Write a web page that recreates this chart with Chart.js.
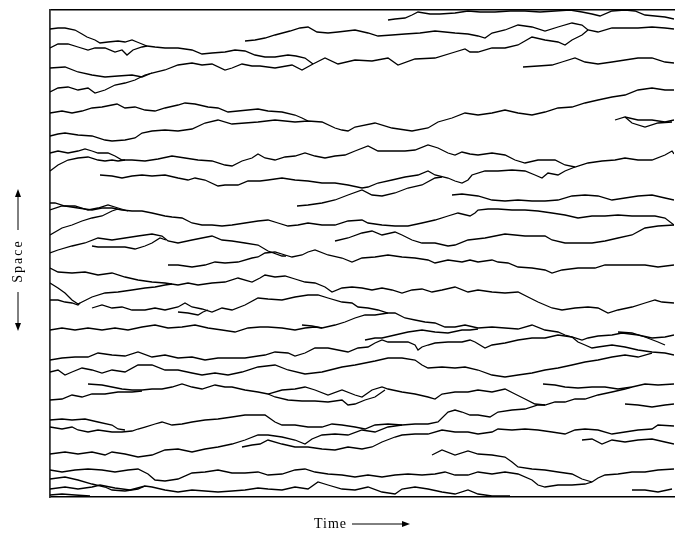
<!DOCTYPE html>
<html>
<head>
<meta charset="utf-8">
<script src="https://cdn.jsdelivr.net/npm/chart.js@4.4.1/dist/chart.umd.min.js"></script>
<style>
  html, body { margin: 0; padding: 0; background: #fff; }
  canvas { display: block; }
</style>
</head>
<body>
<canvas id="walks" width="678" height="533"></canvas>
<script>
// each path: [time, space] pairs (time 0..624, space 0..487 from the top)
const path01 = [[0,19],[8,18],[15,18],[25,20],[32,24],[37,27],[45,30],[50,33],[58,32],[68,31],[75,32],[82,30],[87,32],[92,34],[97,36],[105,37],[115,38],[128,38],[142,40],[152,44],[162,43],[175,42],[185,40],[195,41],[205,45],[215,47],[225,47],[238,45],[246,46],[255,48],[263,54]];
const path02 = [[0,38],[8,34],[18,34],[28,37],[38,40],[45,38],[55,38],[65,42],[72,40],[77,45],[83,40],[92,37],[97,36]];
const path03 = [[0,58],[15,57],[28,62],[42,65],[55,67],[68,66],[82,65],[92,67],[102,63],[115,60],[128,55],[142,53],[152,55],[162,54],[175,60],[182,58],[192,54],[202,56],[210,56],[225,58],[242,55],[252,60],[263,54],[275,48],[288,54],[305,50],[322,51],[338,48],[348,55],[365,49],[385,48],[405,42],[415,39],[420,42],[428,42],[442,38],[455,38],[468,35],[482,27],[495,30],[508,32],[515,35],[522,30],[532,25],[538,20]];
const path04 = [[0,82],[8,78],[18,77],[28,80],[38,78],[45,83],[55,80],[65,75],[75,73],[85,70],[95,65],[102,63]];
const path05 = [[195,31],[205,30],[215,28],[225,25],[240,21],[250,18],[258,17],[267,22],[278,23],[288,22],[305,20],[318,23],[328,26],[342,25],[355,24],[370,23],[385,21],[395,22],[405,23],[418,24],[428,26],[435,28],[442,23],[455,20],[468,15],[482,17],[495,21],[508,17],[522,13],[532,15],[538,20],[548,22],[562,18],[575,18],[588,18],[602,17],[615,18],[624,19]];
const path06 = [[338,10],[345,9],[355,8],[362,5],[368,2],[380,4],[390,4],[405,3],[418,1],[430,2],[445,2],[460,1],[475,1],[490,2],[505,1],[520,0],[532,2],[542,4],[550,6],[562,1],[575,0],[585,1],[595,5],[605,6],[615,7],[624,9]];
const path07 = [[0,103],[12,101],[22,103],[32,101],[42,98],[52,97],[62,95],[67,94],[75,98],[85,97],[95,100],[105,101],[115,98],[128,95],[135,93],[145,94],[158,97],[168,98],[178,102],[188,101],[198,100],[208,99],[218,101],[232,102],[245,105],[252,108],[258,111]];
const path08 = [[0,126],[8,124],[15,123],[28,125],[42,126],[55,130],[62,131],[75,130],[85,128],[92,123],[102,121],[115,120],[128,121],[142,119],[155,113],[168,110],[182,114],[195,113],[208,112],[225,110],[245,112],[258,111],[272,112],[285,118],[292,120],[298,121],[305,117],[325,113],[342,118],[362,121],[378,118],[388,112],[402,108],[415,103],[428,105],[442,103],[455,100],[468,103],[482,105],[495,102],[508,98],[522,97],[535,93],[548,90],[562,87],[575,85],[588,80],[602,78],[615,80],[624,80]];
const path09 = [[473,57],[488,56],[502,55],[512,52],[525,48],[535,52],[548,54],[562,52],[575,50],[588,48],[602,48],[615,52],[624,53]];
const path10 = [[565,110],[575,107],[588,110],[602,110],[615,112],[624,110]];
const path11 = [[575,107],[582,113],[595,117],[608,113],[622,112]];
const path12 = [[0,143],[8,141],[18,143],[28,141],[35,139],[42,141],[48,143],[58,143],[65,146],[72,150],[82,150],[95,151],[108,149],[122,146],[135,148],[148,150],[162,151],[175,155],[182,156],[192,151],[202,148],[208,144],[215,148],[225,150],[235,147],[245,146],[255,143],[265,146],[275,148],[285,146],[295,145],[305,141],[318,136],[328,141],[342,141],[355,141],[365,140],[378,135],[388,138],[398,143],[405,145],[412,142],[420,144],[428,145],[442,143],[455,145],[465,150],[475,153],[488,150],[505,150],[515,155],[525,157],[538,153],[552,151],[565,150],[575,148],[588,150],[602,150],[615,145],[622,141],[624,144]];
const path13 = [[0,161],[8,155],[18,150],[28,148],[38,147],[48,150],[55,151],[62,150],[68,151],[75,150]];
const path14 = [[50,165],[62,166],[72,168],[82,166],[92,165],[102,166],[115,165],[128,168],[138,170],[145,168],[155,170],[168,176],[175,175],[188,175],[198,171],[210,171],[218,170],[232,168],[245,170],[258,171],[272,173],[285,173],[298,175],[312,178],[318,177],[328,173],[342,170],[355,167],[368,165],[378,161],[385,165],[398,168],[405,171],[412,173],[418,170],[422,165],[435,161],[448,161],[462,160],[475,161],[485,165],[492,168],[498,163],[508,165],[515,161],[525,157]];
const path15 = [[247,196],[258,195],[272,193],[285,190],[298,185],[312,180],[322,185],[332,186],[345,183],[358,178],[372,175],[385,168],[392,167]];
const path16 = [[402,185],[412,184],[420,185],[428,186],[442,190],[455,191],[468,190],[482,191],[495,191],[508,190],[522,186],[535,185],[548,186],[562,190],[575,188],[588,186],[602,185],[615,188],[624,190]];
const path17 = [[0,193],[5,193],[15,196],[28,198],[42,200],[52,198],[62,198],[72,200],[82,201],[92,201],[102,203],[115,206],[122,207],[132,208],[142,213],[152,215],[162,215],[172,216],[182,215],[195,213],[208,211],[218,210],[228,213],[238,216],[248,215],[258,213],[272,215],[285,215],[298,211],[312,210],[318,213],[332,215],[345,216],[358,216],[372,213],[385,210],[398,206],[408,203],[420,206],[425,203],[428,200],[438,199],[448,199],[462,200],[475,200],[488,201],[502,203],[515,205],[528,208],[542,206],[555,206],[568,205],[582,206],[595,206],[605,206],[615,208],[624,215]];
const path18 = [[0,200],[12,196],[25,196],[38,200],[48,198],[58,195],[68,198],[78,201]];
const path19 = [[0,225],[12,218],[22,215],[32,211],[42,208],[52,206],[62,201],[68,199]];
const path20 = [[285,231],[298,228],[312,223],[322,221],[332,225],[345,222],[352,225],[362,230],[372,233],[385,233],[398,236],[405,235],[418,230],[435,228],[455,224],[475,226],[495,226],[502,230],[515,233],[528,233],[542,233],[555,231],[568,228],[582,225],[595,218],[608,216],[624,215]];
const path21 = [[42,236],[48,237],[62,237],[75,237],[85,239],[95,236],[102,233],[110,228],[116,230]];
const path22 = [[0,243],[8,240],[22,236],[35,233],[48,228],[62,230],[75,228],[88,226],[102,224],[112,226],[118,231],[128,233],[142,230],[152,228],[162,226],[172,230],[182,231],[195,233],[208,235],[218,241],[232,246],[236,246]];
const path23 = [[118,255],[128,255],[142,257],[155,255],[165,252],[175,253],[188,252],[202,248],[208,247],[215,243],[225,242],[235,245],[242,247],[252,245],[258,242],[265,240],[278,245],[292,248],[302,252],[312,248],[325,247],[338,245],[352,247],[365,248],[378,250],[385,253],[398,250],[412,252],[420,250],[428,252],[442,250],[448,252],[458,253],[468,257],[482,258],[495,260],[502,263],[512,260],[528,258],[545,258],[555,255],[568,255],[582,255],[595,255],[608,257],[624,255]];
const path24 = [[0,258],[8,262],[22,263],[35,262],[48,265],[62,263],[75,267],[88,270],[102,272],[115,273],[128,275],[138,273],[148,275],[162,273],[175,272],[188,268],[202,272],[210,268],[215,265],[225,267],[235,266],[245,269],[255,272],[265,273],[275,277],[282,282],[292,278],[302,277],[312,278],[322,280],[332,278],[342,280],[352,283],[362,280],[372,279],[382,282],[392,280],[405,277],[418,282],[428,280],[442,282],[455,283],[468,282],[478,287],[488,292],[502,298],[512,300],[525,298],[538,297],[548,298],[558,303],[568,300],[582,297],[595,293],[605,290],[612,292],[624,293]];
const path25 = [[0,273],[8,278],[15,283],[22,290],[28,294],[32,292],[42,287],[55,283],[68,282],[82,280],[95,278],[105,277],[115,275],[122,274]];
const path26 = [[0,290],[8,290],[15,292],[22,293],[28,295],[30,293]];
const path27 = [[42,298],[52,295],[62,298],[72,297],[82,300],[95,300],[105,298],[115,300],[128,297],[135,293],[142,297],[152,299],[162,302],[172,298],[182,300],[195,295],[208,288],[218,289],[232,290],[245,287],[258,285],[268,285],[278,288],[292,292],[302,293],[308,297],[318,298],[328,300],[338,303],[345,303],[355,308],[365,310],[375,312],[385,313],[395,317],[405,317],[415,315],[428,318],[442,317],[455,318],[468,319],[482,315],[495,320],[508,322],[515,325],[522,327],[528,332],[535,335],[542,338],[548,337],[562,335],[575,337],[588,340],[602,342],[615,343],[624,345]];
const path28 = [[128,302],[138,303],[148,305],[153,302],[158,300]];
const path29 = [[0,320],[12,318],[25,320],[38,318],[52,320],[65,318],[78,320],[92,317],[105,315],[118,318],[132,317],[145,315],[158,318],[172,320],[185,322],[198,318],[210,317],[218,317],[232,318],[245,320],[255,318],[265,317],[272,318],[285,315],[295,312],[305,308],[315,305],[325,305],[338,303]];
const path30 = [[252,315],[262,316],[272,318]];
const path31 = [[0,350],[12,348],[25,347],[38,347],[48,343],[62,345],[75,346],[88,342],[102,347],[115,345],[128,348],[142,347],[155,350],[168,348],[182,348],[195,348],[208,346],[215,345],[225,342],[238,343],[245,346],[255,343],[265,338],[278,338],[288,340],[298,342],[308,338],[318,337],[325,333],[332,330],[338,332],[348,332],[358,332],[365,335],[368,340],[372,337],[378,335],[385,333],[398,332],[412,332],[420,330],[425,332],[435,338],[442,335],[455,333],[468,330],[482,328],[495,328],[508,325],[522,327],[532,330],[538,328],[548,326],[562,325],[572,323],[588,325],[602,328],[615,327],[624,325]];
const path32 = [[315,330],[325,328],[332,328],[345,325],[358,322],[372,320],[385,322],[398,323],[412,320],[420,320],[428,319]];
const path33 = [[568,322],[582,323],[595,327],[608,332],[615,335]];
const path34 = [[0,362],[8,360],[15,365],[22,362],[32,358],[42,360],[52,363],[62,360],[75,362],[88,355],[102,355],[115,360],[128,360],[142,363],[152,365],[165,363],[178,365],[192,362],[208,357],[225,355],[238,360],[255,364],[272,362],[292,357],[305,355],[325,351],[338,348],[352,348],[365,350],[372,355],[378,358],[392,357],[405,358],[415,357],[428,360],[442,365],[455,367],[468,365],[482,363],[495,360],[508,358],[522,355],[535,352],[548,350],[562,347],[575,345],[588,347],[602,343]];
const path35 = [[38,374],[52,375],[62,377],[72,379],[82,380],[92,380],[102,379],[112,379],[122,377],[132,374],[142,377],[152,379],[165,375],[175,377],[182,377],[195,380],[208,382],[218,384],[232,380],[245,379],[255,377],[265,380],[278,385],[292,380],[305,385],[312,387],[322,380],[332,377],[338,379],[352,382],[365,384],[378,387],[385,389],[392,384],[405,382],[418,382],[428,380],[442,382],[455,379],[465,384],[475,389],[485,394],[495,395],[505,392],[515,392],[525,389],[535,389],[548,385],[562,382],[575,379],[582,377]];
const path36 = [[0,390],[12,389],[22,385],[32,387],[42,384],[55,384],[68,382],[82,382],[92,381]];
const path37 = [[218,384],[225,387],[238,390],[252,391],[265,391],[278,392],[292,390],[298,395],[305,394],[315,390],[325,387],[335,380]];
const path38 = [[493,374],[505,375],[515,377],[528,378],[542,377],[555,377],[568,379],[582,377],[595,374],[608,375],[624,374]];
const path39 = [[575,394],[588,395],[602,397],[615,395],[624,394]];
const path40 = [[0,410],[12,409],[22,410],[35,409],[48,412],[62,415],[68,419],[75,420]];
const path41 = [[0,417],[12,419],[22,417],[28,420],[38,422],[48,420],[62,422],[72,422],[82,421],[88,419],[95,417],[105,414],[112,412],[122,415],[132,414],[142,412],[155,410],[168,409],[182,407],[195,405],[208,405],[215,405],[225,412],[232,415],[245,415],[258,417],[272,417],[282,414],[292,415],[305,417],[315,419],[325,415],[338,414],[352,415],[365,414],[378,414],[388,412],[398,402],[405,400],[412,402],[420,405],[428,405],[440,407],[448,402],[462,400],[475,399],[488,395],[495,395]];
const path42 = [[0,444],[15,442],[28,444],[42,442],[55,445],[62,442],[75,444],[88,447],[102,445],[115,440],[128,439],[142,442],[155,439],[168,437],[182,434],[195,430],[208,425],[218,425],[232,427],[245,430],[255,434],[262,429],[272,425],[285,424],[298,425],[312,420],[325,422],[338,417],[352,415]];
const path43 = [[192,437],[202,435],[210,434],[218,430],[232,434],[245,437],[258,437],[272,439],[285,440],[298,437],[312,439],[322,437],[332,432],[345,427],[352,425],[365,424],[378,424],[392,420],[405,422],[418,422],[428,424],[442,422],[448,419],[462,420],[475,419],[488,420],[502,422],[515,424],[525,420],[535,419],[548,420],[562,424],[575,422],[588,420],[602,419],[608,415],[624,416]];
const path44 = [[532,430],[542,429],[552,434],[562,430],[575,432],[588,430],[602,429],[615,432],[624,434]];
const path45 = [[382,445],[392,440],[405,445],[418,441],[428,444],[442,445],[455,447],[462,452],[468,457],[482,459],[495,460],[508,462],[522,464],[532,469],[542,472]];
const path46 = [[0,460],[12,462],[25,460],[38,459],[52,460],[65,462],[78,460],[88,459],[98,464],[105,470],[115,471],[128,469],[142,463],[155,462],[168,460],[182,463],[195,463],[208,462],[218,465],[232,464],[245,460],[255,459],[265,462],[278,464],[292,465],[305,467],[318,465],[332,467],[345,465],[358,464],[372,465],[385,464],[395,462],[405,465],[418,465],[428,462],[442,464],[455,462],[468,464],[482,470],[488,475],[495,477],[508,475],[522,475],[535,474],[542,472],[548,468],[555,465],[568,464],[582,462],[595,462],[608,460],[624,459]];
const path47 = [[0,469],[15,467],[28,470],[42,474],[55,477],[62,480],[75,481],[88,479],[95,476]];
const path48 = [[0,479],[15,477],[28,479],[42,477],[50,475],[65,478],[80,480],[95,476],[102,477],[115,480],[128,482],[142,480],[155,481],[168,482],[182,481],[195,480],[208,478],[218,479],[232,480],[245,477],[258,479],[268,472],[278,475],[292,479],[305,480],[318,477],[332,482],[345,484],[352,479],[365,477],[378,479],[392,482],[405,484],[418,480],[428,484],[442,486],[460,486]];
const path49 = [[0,485],[12,484],[25,485],[40,486]];
const path50 = [[582,480],[595,480],[608,482],[622,479]];

const walks = [path01, path02, path03, path04, path05, path06, path07, path08, path09, path10,
  path11, path12, path13, path14, path15, path16, path17, path18, path19, path20,
  path21, path22, path23, path24, path25, path26, path27, path28, path29, path30,
  path31, path32, path33, path34, path35, path36, path37, path38, path39, path40,
  path41, path42, path43, path44, path45, path46, path47, path48, path49, path50];

const timeSpan = [0, 624];
const spaceSpan = [0, 487];

function arrow(ctx, x1, y1, x2, y2) {
    const ang = Math.atan2(y2 - y1, x2 - x1);
    ctx.beginPath();
    ctx.moveTo(x1, y1);
    ctx.lineTo(x2 - 6 * Math.cos(ang), y2 - 6 * Math.sin(ang));
    ctx.stroke();
    ctx.beginPath();
    ctx.moveTo(x2, y2);
    ctx.lineTo(x2 - 8 * Math.cos(ang) + 3 * Math.sin(ang), y2 - 8 * Math.sin(ang) - 3 * Math.cos(ang));
    ctx.lineTo(x2 - 8 * Math.cos(ang) - 3 * Math.sin(ang), y2 - 8 * Math.sin(ang) + 3 * Math.cos(ang));
    ctx.closePath();
    ctx.fill();
}

// axis names with arrows, like the printed figure
const axisNotes = {
    id: 'axisNotes',
    afterDraw(chart) {
        const ctx = chart.ctx;
        const a = chart.chartArea;
        ctx.save();
        ctx.fillStyle = '#000';
        ctx.strokeStyle = '#000';
        ctx.lineWidth = 1;
        ctx.font = "14px 'Liberation Serif'";
        ctx.textBaseline = 'middle';

        const ty = a.bottom + 27;
        ctx.textAlign = 'right';
        ctx.letterSpacing = '1px';
        ctx.fillText('Time', a.left + 297, ty);
        arrow(ctx, a.left + 302, ty, a.left + 360, ty);

        ctx.translate(a.left - 32, a.top + 251);
        ctx.rotate(-Math.PI / 2);
        ctx.textAlign = 'center';
        ctx.letterSpacing = '2px';
        ctx.fillText('Space', 0, 0);
        arrow(ctx, 31, 0, 72, 0);
        arrow(ctx, -31, 0, -70, 0);
        ctx.restore();
    }
};

const noGrid = { display: false, drawTicks: false, tickLength: 0 };

const ctx = document.getElementById('walks');
const walkChart = new Chart(ctx, {
    type: 'line',
    data: {
        datasets: walks.map(function(p) {
            return {
                data: p.map(function(v) { return {x: v[0], y: v[1]}; }),
                borderColor: '#000',
                borderWidth: 1.3,
                pointRadius: 0,
                tension: 0,
                fill: false
            };
        })
    },
    options: {
        responsive: false,
        animation: false,
        devicePixelRatio: 1,
        layout: { padding: { left: 50, top: 10, right: 4, bottom: 36 } },
        plugins: {
            legend: { display: false },
            tooltip: { enabled: false }
        },
        scales: {
            x: {
                type: 'linear',
                min: timeSpan[0],
                max: timeSpan[1],
                grid: noGrid,
                ticks: { display: false, padding: 0 },
                border: { display: true, color: '#000', width: 1.6 }
            },
            xTop: {
                type: 'linear',
                position: 'top',
                min: timeSpan[0],
                max: timeSpan[1],
                grid: noGrid,
                ticks: { display: false, padding: 0 },
                border: { display: true, color: '#000', width: 1.4 }
            },
            y: {
                type: 'linear',
                reverse: true,
                min: spaceSpan[0],
                max: spaceSpan[1],
                grid: noGrid,
                ticks: { display: false, padding: 0 },
                border: { display: true, color: '#333', width: 1.8 }
            }
        }
    },
    plugins: [axisNotes]
});
</script>
</body>
</html>
